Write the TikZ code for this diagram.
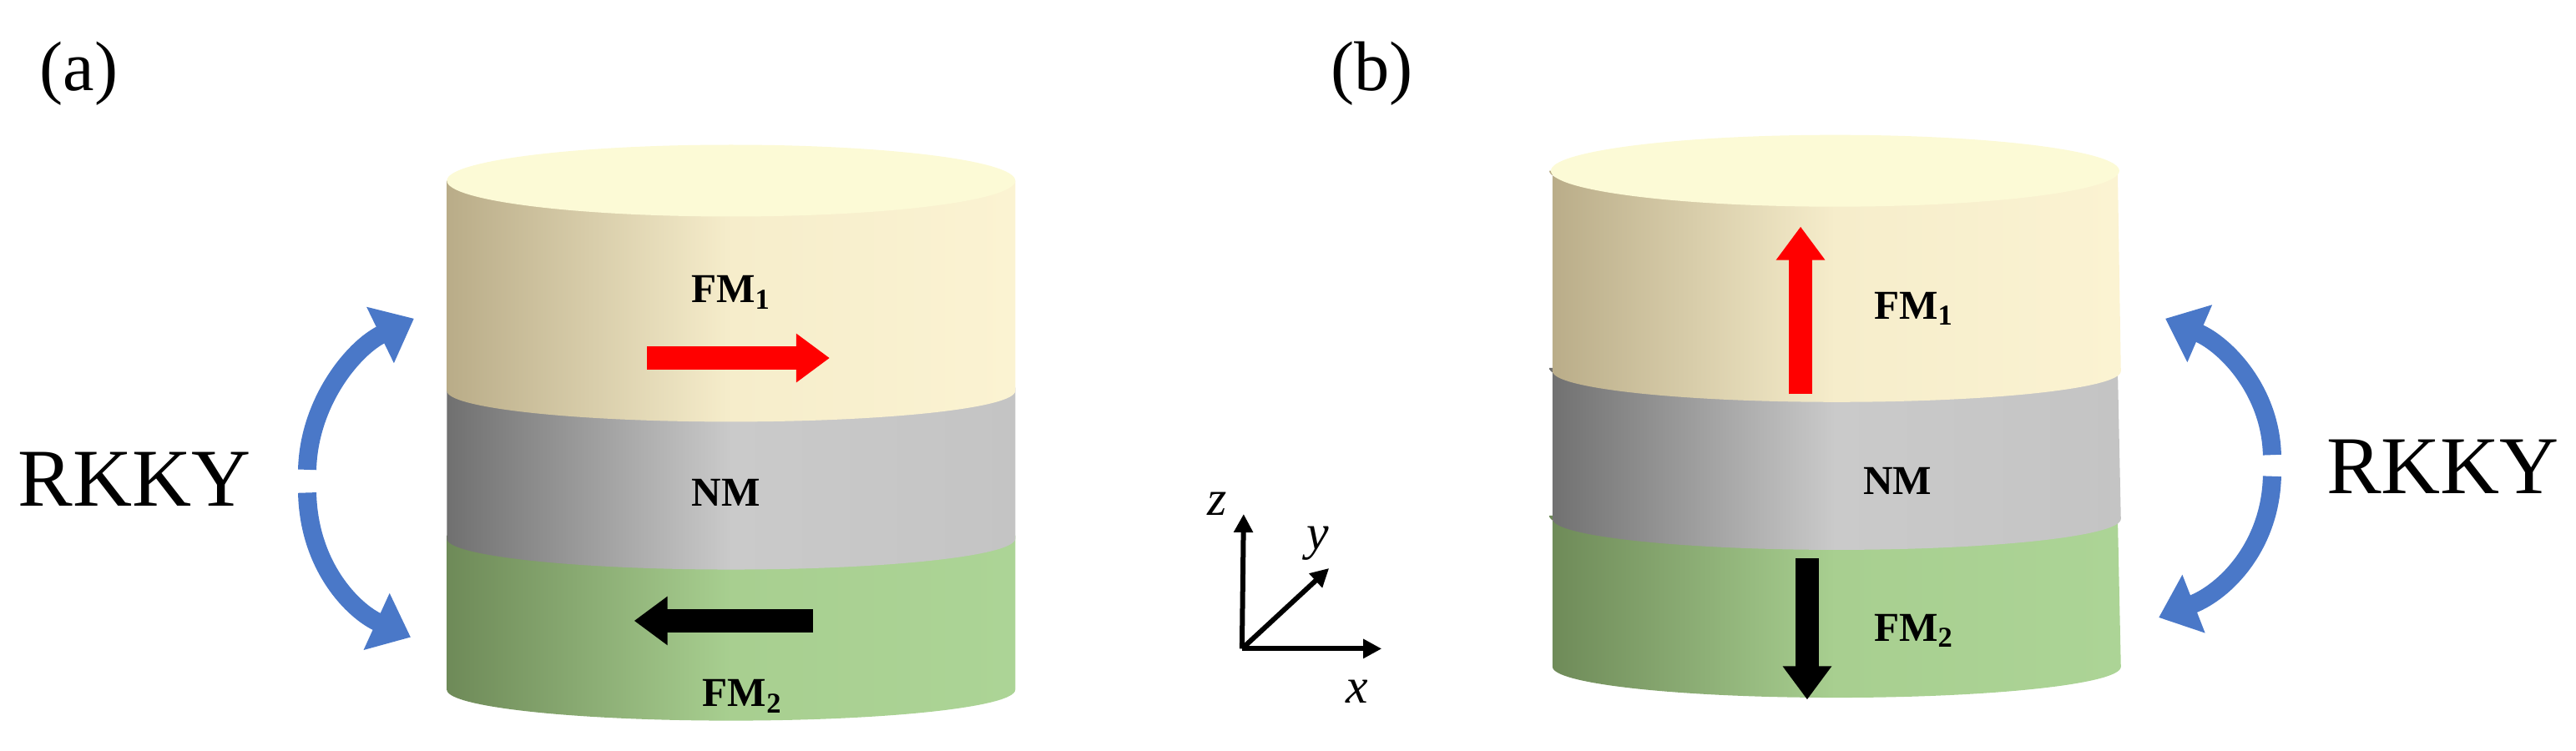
\documentclass[tikz,border=0pt]{standalone}
\usepackage{fontspec}
\setmainfont{Liberation Serif}
\usetikzlibrary{arrows.meta}
\definecolor{cA}{HTML}{B9AC88}\definecolor{cB}{HTML}{F6EDCB}\definecolor{cC}{HTML}{FBF3D2}
\definecolor{nA}{HTML}{707070}\definecolor{nB}{HTML}{CACACA}\definecolor{nC}{HTML}{C4C4C4}
\definecolor{gA}{HTML}{6E8A58}\definecolor{gB}{HTML}{A8CF90}\definecolor{gC}{HTML}{ACD496}
\definecolor{topc}{HTML}{FCFAD6}\definecolor{blu}{HTML}{4A78C8}
\newcommand\mylayer[5]{% L R yT yB colors-prefix
  \shade[left color=#5A, right color=#5C, middle color=#5B, shading angle=90]
  (#1,#3) -- (#1,#4) arc[start angle=180,end angle=360,x radius=3.405cm,y radius=0.37cm]
  -- (#2,#3) arc[start angle=360,end angle=180,x radius=3.405cm,y radius=0.37cm] -- cycle;}
\newcommand\mycyl[6]{% L R ytop y1 y2 ybot
  \mylayer{#1}{#2}{#5-2}{#6}{g}
  \mylayer{#1}{#2}{#4-2}{#5}{n}
  \mylayer{#1}{#2}{#3}{#4}{c}
  \fill[topc] ({(#1+#2)/2},#3) ellipse[x radius=3.405cm,y radius=0.43cm];}
\tikzset{
  lab/.style={font=\bfseries\fontsize{14}{14}\selectfont, inner sep=0pt},
  big/.style={font=\fontsize{28}{28}\selectfont, inner sep=0pt},
  sub/.style={font=\fontsize{24}{24}\selectfont, inner sep=0pt},
  spin/.style={line width=0.28cm,-{Triangle[width=0.56cm,length=0.4cm]}},
  rk/.style={blu,line width=0.22cm,-{Triangle[width=0.72cm,length=0.45cm]}},
  ax/.style={line width=0.06cm,-{Triangle[width=0.22cm,length=0.22cm]}},
  axl/.style={font=\itshape\fontsize{17}{17}\selectfont, inner sep=0pt}
}
\begin{document}
\begin{tikzpicture}[x=0.01968cm,y=-0.01968cm]
\useasboundingbox (0,0) rectangle (1568,457);
\node[sub] (la) at (48,45) {(a)};
\node[sub] (lb) at (835,45) {(b)};
% cylinder a
\mycyl{272}{618}{110}{238}{328}{420}
\node[lab] (fm1a) at (445,178) {FM\textsubscript{1}};
\coordinate (ra1) at (394,218); \coordinate (ra2) at (505,218);
\draw[spin,red] (ra1) -- (ra2);
\node[lab] (nma) at (442,300) {NM};
\coordinate (ka1) at (495,378); \coordinate (ka2) at (386,378);
\draw[spin,black] (ka1) -- (ka2);
\node[lab] (fm2a) at (452,424) {FM\textsubscript{2}};
\node[big] (rkkya) at (82,292) {RKKY};
\coordinate (ga1) at (187,286); \coordinate (ta1) at (252,194);
\coordinate (ga2) at (187,300); \coordinate (ta2) at (250,388);
\draw[rk] (ga1) .. controls (188,245) and (215,212) .. (ta1);
\draw[rk] (ga2) .. controls (188,345) and (215,372) .. (ta2);
% cylinder b
\mycyl{945}{1289}{104}{226}{316}{406}
\coordinate (rb1) at (1096,240); \coordinate (rb2) at (1096,138);
\draw[spin,red] (rb1) -- (rb2);
\node[lab] (fm1b) at (1165,188) {FM\textsubscript{1}};
\node[lab] (nmb) at (1155,293) {NM};
\coordinate (kb1) at (1100,340); \coordinate (kb2) at (1100,426);
\draw[spin,black] (kb1) -- (kb2);
\node[lab] (fm2b) at (1165,384) {FM\textsubscript{2}};
\node[big] (rkkyb) at (1487,284) {RKKY};
\coordinate (gb1) at (1383,277); \coordinate (tb1) at (1318,194);
\coordinate (gb2) at (1383,290); \coordinate (tb2) at (1314,376);
\draw[rk] (gb1) .. controls (1382,238) and (1355,210) .. (tb1);
\draw[rk] (gb2) .. controls (1382,332) and (1355,360) .. (tb2);
% axes
\coordinate (o) at (756,395);
\coordinate (zt) at (757,313); \coordinate (xt) at (841,395); \coordinate (yt) at (809,346);
\draw[ax] (o) -- (zt); \draw[ax] (o) -- (xt); \draw[ax] (o) -- (yt);
\node[axl] (zl) at (741,307) {z};
\node[axl] (yl) at (802,331) {y};
\node[axl] (xl) at (826,421) {x};
\end{tikzpicture}
\end{document}
